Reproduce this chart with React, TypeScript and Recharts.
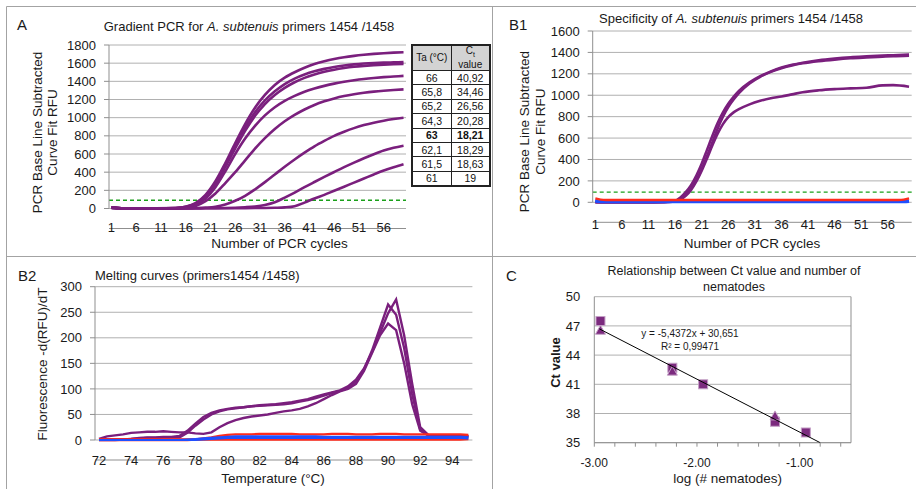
import React from 'react';
import { LineChart, Line, XAxis, YAxis, CartesianGrid, ReferenceLine, ScatterChart, Scatter } from 'recharts';

const FONT = '"Liberation Sans", Arial, Helvetica, sans-serif';
const PURPLE = '#7a1f7d';
const RED = '#ff2b1c';
const BLUE = '#1f4fff';
const GREEN = '#1aa01a';
const GRID = '#b0b0b0';
const AXIS = '#8f8f8f';
const TEXT = '#1a1a1a';

// ---------- Panel A : gradient PCR ----------
const cyclesA = [1, 3, 6, 10, 14, 16, 18, 20, 22, 24, 26, 28, 30, 32, 34, 36, 38, 40, 42, 44, 46, 48, 50, 52, 54, 56, 58, 60];
const a1 = [14, 3, 2, 2, 6, 20, 60, 150, 300, 500, 720, 930, 1110, 1250, 1360, 1440, 1500, 1550, 1590, 1620, 1645, 1665, 1680, 1692, 1702, 1710, 1716, 1720];
const a2 = [12, 3, 2, 2, 5, 18, 55, 140, 285, 480, 690, 890, 1060, 1190, 1290, 1370, 1430, 1475, 1510, 1537, 1558, 1574, 1587, 1596, 1602, 1606, 1609, 1612];
const a3 = [12, 3, 2, 2, 4, 15, 48, 128, 268, 458, 662, 855, 1020, 1150, 1250, 1328, 1390, 1438, 1475, 1505, 1528, 1546, 1560, 1570, 1578, 1584, 1588, 1590];
const a4 = [10, 3, 2, 2, 3, 12, 42, 110, 235, 410, 600, 770, 910, 1025, 1115, 1185, 1240, 1285, 1320, 1350, 1375, 1395, 1412, 1426, 1437, 1446, 1453, 1460];
const a5 = [10, 2, 1, 1, 2, 8, 28, 80, 165, 280, 400, 530, 660, 775, 875, 960, 1030, 1090, 1140, 1180, 1212, 1238, 1258, 1274, 1287, 1297, 1305, 1311];
const a6 = [8, 2, 1, 1, 1, 2, 5, 10, 20, 45, 85, 140, 210, 290, 375, 460, 540, 615, 685, 745, 800, 845, 885, 918, 945, 967, 985, 1000];
const a7 = [6, 2, 1, 1, 1, 1, 2, 3, 4, 6, 9, 14, 22, 38, 68, 120, 175, 235, 292, 348, 402, 455, 505, 553, 598, 638, 668, 692];
const a8 = [5, 1, 1, 1, 1, 1, 1, 2, 2, 3, 3, 4, 5, 6, 8, 12, 25, 65, 110, 150, 195, 240, 285, 330, 375, 418, 455, 488];
const seriesA = { a1, a2, a3, a4, a5, a6, a7, a8 };
const thresholdA = 91;
const yTicksA = [0, 200, 400, 600, 800, 1000, 1200, 1400, 1600, 1800];
const xLabelTicks = [1, 6, 11, 16, 21, 26, 31, 36, 41, 46, 51, 56];
const minorCycleTicks = Array.from({ length: 61 }, (_, i) => 0.5 + i);

const taVals = ['66', '65,8', '65,2', '64,3', '63', '62,1', '61,5', '61'];
const ctVals = ['40,92', '34,46', '26,56', '20,28', '18,21', '18,29', '18,63', '19'];
const boldRow = 4;

// ---------- Panel B1 : specificity ----------
const cyclesB = [1, 3, 6, 10, 14, 16, 17, 18, 19, 20, 21, 22, 23, 24, 25, 26, 27, 28, 30, 32, 34, 36, 38, 40, 43, 46, 49, 52, 55, 57, 60];
const b1 = [3, 1, 1, 1, 4, 15, 45, 95, 160, 250, 360, 490, 620, 740, 840, 920, 985, 1040, 1120, 1178, 1222, 1258, 1284, 1304, 1327, 1343, 1355, 1363, 1370, 1374, 1380];
const b2 = [2, 1, 1, 1, 3, 10, 32, 72, 130, 210, 310, 430, 560, 690, 800, 890, 960, 1020, 1110, 1172, 1218, 1253, 1279, 1298, 1318, 1333, 1345, 1353, 1360, 1365, 1370];
const b3 = [2, 1, 1, 1, 2, 8, 26, 60, 115, 195, 295, 410, 530, 640, 730, 795, 840, 870, 915, 948, 972, 988, 1008, 1028, 1046, 1057, 1064, 1070, 1092, 1094, 1080];
const cyclesCtl = [1, 2, 3, 10, 20, 30, 40, 50, 58, 59, 60];
const ctlRed1 = [36, 25, 22, 22, 21, 22, 21, 21, 22, 25, 36];
const ctlBlue1 = [16, 11, 10, 10, 10, 10, 10, 10, 10, 11, 14];
const ctlBlue2 = [9, 6, 5, 5, 5, 5, 5, 5, 5, 6, 8];
const thresholdB = 95;
const yTicksB = [0, 200, 400, 600, 800, 1000, 1200, 1400, 1600];

// ---------- Panel B2 : melting curves ----------
const temps = [72, 72.5, 73, 73.5, 74, 74.5, 75, 75.5, 76, 76.5, 77, 77.5, 78, 78.5, 79, 79.5, 80, 80.5, 81, 81.5, 82, 82.5, 83, 83.5, 84, 84.5, 85, 85.5, 86, 86.5, 87, 87.5, 88, 88.5, 89, 89.5, 90, 90.5, 91, 91.5, 92, 92.5, 93, 93.5, 94, 94.5, 95];
const m1 = [1, 1, 1, 1, 2, 4, 5, 5, 6, 6, 8, 18, 32, 45, 53, 58, 61, 63, 64, 66, 68, 69, 70, 72, 74, 77, 80, 85, 89, 93, 97, 105, 118, 140, 172, 210, 248, 275, 205, 110, 25, 10, 8, 8, 8, 8, 7];
const m2 = [0, 0, 0, 1, 2, 3, 4, 4, 5, 5, 5, 14, 28, 40, 50, 56, 60, 62, 64, 66, 67, 68, 69, 70, 72, 75, 78, 82, 87, 92, 96, 102, 115, 138, 175, 220, 265, 245, 180, 90, 20, 9, 8, 8, 8, 8, 7];
const m3 = [2, 7, 9, 11, 14, 15, 16, 16, 17, 16, 15, 15, 13, 12, 15, 25, 33, 39, 43, 46, 48, 50, 53, 56, 58, 61, 66, 72, 80, 88, 95, 100, 110, 135, 170, 205, 228, 215, 150, 70, 18, 9, 8, 8, 8, 8, 7];
const r1 = [1, 1, 1, 1, 1, 1, 1, 1, 1, 1, 1, 1, 1, 1, 1, 1, 1, 1, 1, 1, 1, 1, 1, 1, 1, 1, 1, 1, 1, 1, 1, 1, 1, 1, 1, 1, 1, 1, 1, 1, 1, 1, 1, 1, 1, 1, 2];
const r2 = [0, 0, 0, 0, 0, 0, 0, 0, 0, 0, 0, 0, 1, 3, 5, 8, 10, 11, 11, 11, 12, 12, 12, 12, 12, 11, 11, 11, 11, 12, 12, 12, 11, 11, 11, 12, 12, 12, 11, 11, 11, 11, 11, 11, 11, 11, 10];
const bl1 = [0, 0, 0, 0, 0, 0, 0, 0, 0, 0, 0, 1, 2, 3, 4, 5, 6, 7, 7, 7, 7, 7, 7, 7, 7, 7, 7, 7, 6, 6, 6, 6, 6, 6, 6, 6, 6, 6, 6, 6, 6, 6, 6, 6, 6, 6, 5];
const bl2 = [0, 0, 0, 0, 0, 0, 0, 0, 0, 0, 0, 0, 0, 1, 2, 3, 4, 4, 4, 4, 4, 4, 4, 4, 4, 4, 4, 4, 4, 4, 4, 4, 4, 4, 4, 4, 4, 4, 4, 4, 4, 4, 4, 4, 4, 4, 3];
const yTicksM = [0, 50, 100, 150, 200, 250, 300];
const xTicksM = [72, 74, 76, 78, 80, 82, 84, 86, 88, 90, 92, 94];
const minorTempTicks = Array.from({ length: 48 }, (_, i) => 71.75 + i * 0.5);

// ---------- Panel C : standard curve ----------
const ctSquares = [
  { x: -2.94, y: 47.5 },
  { x: -2.24, y: 42.7 },
  { x: -1.94, y: 41.0 },
  { x: -1.24, y: 37.15 },
  { x: -0.94, y: 36.05 },
];
const ctTriangles = [
  { x: -2.94, y: 46.5 },
  { x: -2.24, y: 42.3 },
  { x: -1.24, y: 37.7 },
];
const trendLine = [
  { x: -2.95, y: 46.69 },
  { x: -0.8, y: 35.0 },
];
const yTicksC = [35, 38, 41, 44, 47, 50];
const xTicksC = [-3, -2.8, -2.6, -2.4, -2.2, -2, -1.8, -1.6, -1.4, -1.2, -1, -0.8, -0.6];

const tickStyle = { fontSize: 13, fill: TEXT };

function ChartA() {
  const data = cyclesA.map((c, i) => {
    const row: any = { c };
    Object.entries(seriesA).forEach(([k, arr]) => (row[k] = arr[i]));
    return row;
  });
  return (
    <LineChart width={460} height={256} data={data} margin={{ top: 45, right: 54, bottom: 26.5, left: 59 }}>
      <CartesianGrid xAxisId="l" vertical={false} stroke={GRID} />
      <XAxis xAxisId="m" type="number" dataKey="c" domain={[0.5, 60.5]} ticks={minorCycleTicks} interval={0} tick={false} tickSize={3} tickLine={{ stroke: AXIS }} axisLine={{ stroke: AXIS }} height={1} allowDataOverflow />
      <XAxis xAxisId="l" type="number" dataKey="c" domain={[0.5, 60.5]} ticks={xLabelTicks} interval={0} tickLine={false} axisLine={false} tickSize={0} tickMargin={14} height={20} tick={tickStyle} allowDataOverflow />
      <YAxis type="number" domain={[0, 1800]} ticks={yTicksA} interval={0} width={50} tickSize={5} tickMargin={8} tickLine={{ stroke: AXIS }} axisLine={{ stroke: AXIS }} tick={tickStyle} />
      <ReferenceLine xAxisId="l" y={thresholdA} stroke={GREEN} strokeDasharray="4 3" strokeWidth={1.3} />
      {Object.keys(seriesA).map((k) => (
        <Line key={k} xAxisId="l" type="monotone" dataKey={k} stroke={PURPLE} strokeWidth={2.6} dot={false} isAnimationActive={false} />
      ))}
    </LineChart>
  );
}

function ChartB1() {
  const data = cyclesB.map((c, i) => ({ c, b1: b1[i], b2: b2[i], b3: b3[i] }));
  const ctl = cyclesCtl.map((c, i) => ({ c, r1: ctlRed1[i], u1: ctlBlue1[i], u2: ctlBlue2[i] }));
  return (
    <LineChart width={456} height={256} data={data} margin={{ top: 31, right: 4.3, bottom: 32.7, left: 82.7 }}>
      <CartesianGrid xAxisId="l" vertical={false} stroke={GRID} />
      <XAxis xAxisId="m" type="number" dataKey="c" domain={[0.5, 60.5]} ticks={minorCycleTicks} interval={0} tick={false} tickSize={3} tickLine={{ stroke: AXIS }} axisLine={{ stroke: AXIS }} height={1} allowDataOverflow />
      <XAxis xAxisId="l" type="number" dataKey="c" domain={[0.5, 60.5]} ticks={xLabelTicks} interval={0} tickLine={false} axisLine={false} tickSize={0} tickMargin={17} height={20} tick={tickStyle} allowDataOverflow />
      <YAxis type="number" domain={[0, 1600]} ticks={yTicksB} interval={0} width={50} tickSize={5} tickMargin={8} tickLine={{ stroke: AXIS }} axisLine={{ stroke: AXIS }} tick={tickStyle} />
      <ReferenceLine xAxisId="l" y={thresholdB} stroke={GREEN} strokeDasharray="4 3" strokeWidth={1.3} />
      {['b1', 'b2', 'b3'].map((k) => (
        <Line key={k} xAxisId="l" type="monotone" dataKey={k} stroke={PURPLE} strokeWidth={2.6} dot={false} isAnimationActive={false} />
      ))}
      <Line xAxisId="l" data={ctl} type="monotone" dataKey="u1" stroke={BLUE} strokeWidth={3} dot={false} isAnimationActive={false} />
      <Line xAxisId="l" data={ctl} type="monotone" dataKey="u2" stroke={BLUE} strokeWidth={3} dot={false} isAnimationActive={false} />
      <Line xAxisId="l" data={ctl} type="monotone" dataKey="r1" stroke={RED} strokeWidth={2.4} dot={false} isAnimationActive={false} />
    </LineChart>
  );
}

function ChartB2() {
  const data = temps.map((t, i) => ({ t, m1: m1[i], m2: m2[i], m3: m3[i], r1: r1[i], r2: r2[i], bl1: bl1[i], bl2: bl2[i] }));
  return (
    <LineChart width={492} height={232} data={data} margin={{ top: 29.7, right: 19.6, bottom: 28, left: 55 }}>
      <CartesianGrid xAxisId="l" vertical={false} stroke={GRID} />
      <XAxis xAxisId="m" type="number" dataKey="t" domain={[71.75, 95.25]} ticks={minorTempTicks} interval={0} tick={false} tickSize={3} tickLine={{ stroke: AXIS }} axisLine={{ stroke: AXIS }} height={1} allowDataOverflow />
      <XAxis xAxisId="l" type="number" dataKey="t" domain={[71.75, 95.25]} ticks={xTicksM} interval={0} tickLine={false} axisLine={false} tickSize={0} tickMargin={16} height={20} tick={tickStyle} allowDataOverflow />
      <YAxis type="number" domain={[0, 300]} ticks={yTicksM} interval={0} width={40} tickSize={5} tickMargin={8} tickLine={{ stroke: AXIS }} axisLine={{ stroke: AXIS }} tick={tickStyle} />
      {['m1', 'm2', 'm3'].map((k) => (
        <Line key={k} xAxisId="l" type="linear" dataKey={k} stroke={PURPLE} strokeWidth={2.4} dot={false} isAnimationActive={false} />
      ))}
      <Line xAxisId="l" type="linear" dataKey="r1" stroke={RED} strokeWidth={2.6} dot={false} isAnimationActive={false} />
      <Line xAxisId="l" type="linear" dataKey="r2" stroke={RED} strokeWidth={2.4} dot={false} isAnimationActive={false} />
      {['bl1', 'bl2'].map((k) => (
        <Line key={k} xAxisId="l" type="linear" dataKey={k} stroke={BLUE} strokeWidth={2.2} dot={false} isAnimationActive={false} />
      ))}
    </LineChart>
  );
}

const SquareShape = (p: any) => (
  <rect x={p.cx - 4.5} y={p.cy - 4.5} width={9} height={9} fill="#7b2a7e" stroke="#c4a0c6" strokeWidth={1} />
);
const TriangleShape = (p: any) => (
  <polygon points={`${p.cx},${p.cy - 5.5} ${p.cx + 5},${p.cy + 3.5} ${p.cx - 5},${p.cy + 3.5}`} fill="#7b2a7e" stroke="#c4a0c6" strokeWidth={1} />
);

function ChartC() {
  return (
    <ScatterChart width={423} height={232} margin={{ top: 39.7, right: 65, bottom: 21.3, left: 61.3 }}>
      <CartesianGrid vertical={false} stroke={GRID} />
      <XAxis type="number" dataKey="x" domain={[-3, -0.5]} ticks={xTicksC} interval={0} allowDataOverflow height={25} tickSize={4} tickMargin={12} tickLine={{ stroke: AXIS }} axisLine={{ stroke: AXIS }} tick={{ fontSize: 12, fill: TEXT }} tickFormatter={(v: number) => (Math.abs(v - Math.round(v)) < 1e-6 ? v.toFixed(2) : '')} />
      <YAxis type="number" dataKey="y" domain={[35, 50]} ticks={yTicksC} interval={0} allowDataOverflow width={40} tickSize={0} tickMargin={14} tickLine={false} axisLine={{ stroke: AXIS }} tick={{ fontSize: 13, fill: TEXT }} />
      <ReferenceLine x={-0.5} stroke={AXIS} />
      <Scatter data={ctSquares} shape={SquareShape} isAnimationActive={false} />
      <Scatter data={ctTriangles} shape={TriangleShape} isAnimationActive={false} />
      <Scatter data={trendLine} line={{ stroke: '#000', strokeWidth: 1 }} shape={() => <g />} isAnimationActive={false} />
    </ScatterChart>
  );
}

function CtTable() {
  const cell: React.CSSProperties = { border: '1px solid #222', padding: 0, textAlign: 'center', height: 13.4, lineHeight: '12px' };
  return (
    <table style={{ position: 'absolute', left: 411, top: 44, width: 80, borderCollapse: 'collapse', tableLayout: 'fixed', border: '2px solid #222', fontSize: 10.5, color: '#111', background: '#fff' }}>
      <tbody>
        <tr style={{ height: 25 }}>
          <td style={{ ...cell, height: 24, background: '#d3d3d3', fontSize: 10 }}>Ta (°C)</td>
          <td style={{ ...cell, height: 24, background: '#d3d3d3', fontSize: 10, lineHeight: '10px' }}>
            C<span style={{ fontSize: 7, verticalAlign: 'sub' }}>t</span>
            <br />value
          </td>
        </tr>
        {taVals.map((ta, i) => (
          <tr key={ta}>
            <td style={{ ...cell, fontWeight: i === boldRow ? 'bold' : 'normal' }}>{ta}</td>
            <td style={{ ...cell, fontWeight: i === boldRow ? 'bold' : 'normal' }}>{ctVals[i]}</td>
          </tr>
        ))}
      </tbody>
    </table>
  );
}

function Overlay() {
  return (
    <svg width={916} height={489} style={{ position: 'absolute', left: 0, top: 0, pointerEvents: 'none' }} fontFamily={FONT} fill={TEXT}>
      <g stroke="#a3a3a3" strokeWidth={1}>
        <line x1={6.5} y1={6.5} x2={916} y2={6.5} />
        <line x1={6.5} y1={6.5} x2={6.5} y2={489} />
        <line x1={6.5} y1={256.5} x2={916} y2={256.5} />
        <line x1={492.5} y1={6.5} x2={492.5} y2={489} />
      </g>
      {/* Panel A */}
      <text x={17} y={29.5} fontSize={15}>A</text>
      <text x={249} y={31} fontSize={13} textAnchor="middle">
        Gradient PCR for <tspan fontStyle="italic">A. subtenuis</tspan> primers 1454 /1458
      </text>
      <text transform="translate(41.5,132.5) rotate(-90)" fontSize={13.5} textAnchor="middle">PCR Base Line Subtracted</text>
      <text transform="translate(56.5,132.5) rotate(-90)" fontSize={13.5} textAnchor="middle">Curve Fit RFU</text>
      <text x={279.5} y={248} fontSize={13.5} textAnchor="middle">Number of PCR cycles</text>
      {/* Panel B1 */}
      <text x={509} y={30} fontSize={15}>B1</text>
      <text x={731} y={22.5} fontSize={13} textAnchor="middle">
        Specificity of <tspan fontStyle="italic">A. subtenuis</tspan> primers 1454 /1458
      </text>
      <text transform="translate(529,131.7) rotate(-90)" fontSize={13.5} textAnchor="middle">PCR Base Line Subtracted</text>
      <text transform="translate(545,131.7) rotate(-90)" fontSize={13.5} textAnchor="middle">Curve Fit RFU</text>
      <text x={752} y={248} fontSize={13.5} textAnchor="middle">Number of PCR cycles</text>
      {/* Panel B2 */}
      <text x={18} y={280.7} fontSize={15}>B2</text>
      <text x={95} y={280} fontSize={13}>Melting curves (primers1454 /1458)</text>
      <text transform="translate(46.5,364) rotate(-90)" fontSize={13.5} textAnchor="middle">Fluorescence -d(RFU)/dT</text>
      <text x={273} y={483} fontSize={13.5} textAnchor="middle">Temperature (°C)</text>
      {/* Panel C */}
      <text x={506} y={280.7} fontSize={15}>C</text>
      <text x={734} y={275} fontSize={12.5} textAnchor="middle">Relationship between Ct value and number of</text>
      <text x={734} y={290.5} fontSize={12.5} textAnchor="middle">nematodes</text>
      <text x={690} y={337} fontSize={10} textAnchor="middle">y = -5,4372x + 30,651</text>
      <text x={690} y={350} fontSize={10} textAnchor="middle">R² = 0,99471</text>
      <text transform="translate(560,362.5) rotate(-90)" fontSize={13} fontWeight="bold" textAnchor="middle">Ct value</text>
      <text x={727.7} y={483} fontSize={13.5} textAnchor="middle">log (# nematodes)</text>
    </svg>
  );
}

export default function App() {
  return (
    <div style={{ position: 'absolute', left: 0, top: 0, width: 916, height: 489, background: '#fff', fontFamily: FONT, overflow: 'hidden' }}>
      <div style={{ position: 'absolute', left: 0, top: 0 }}><ChartA /></div>
      <div style={{ position: 'absolute', left: 460, top: 0 }}><ChartB1 /></div>
      <div style={{ position: 'absolute', left: 0, top: 257 }}><ChartB2 /></div>
      <div style={{ position: 'absolute', left: 493, top: 257 }}><ChartC /></div>
      <CtTable />
      <Overlay />
    </div>
  );
}
